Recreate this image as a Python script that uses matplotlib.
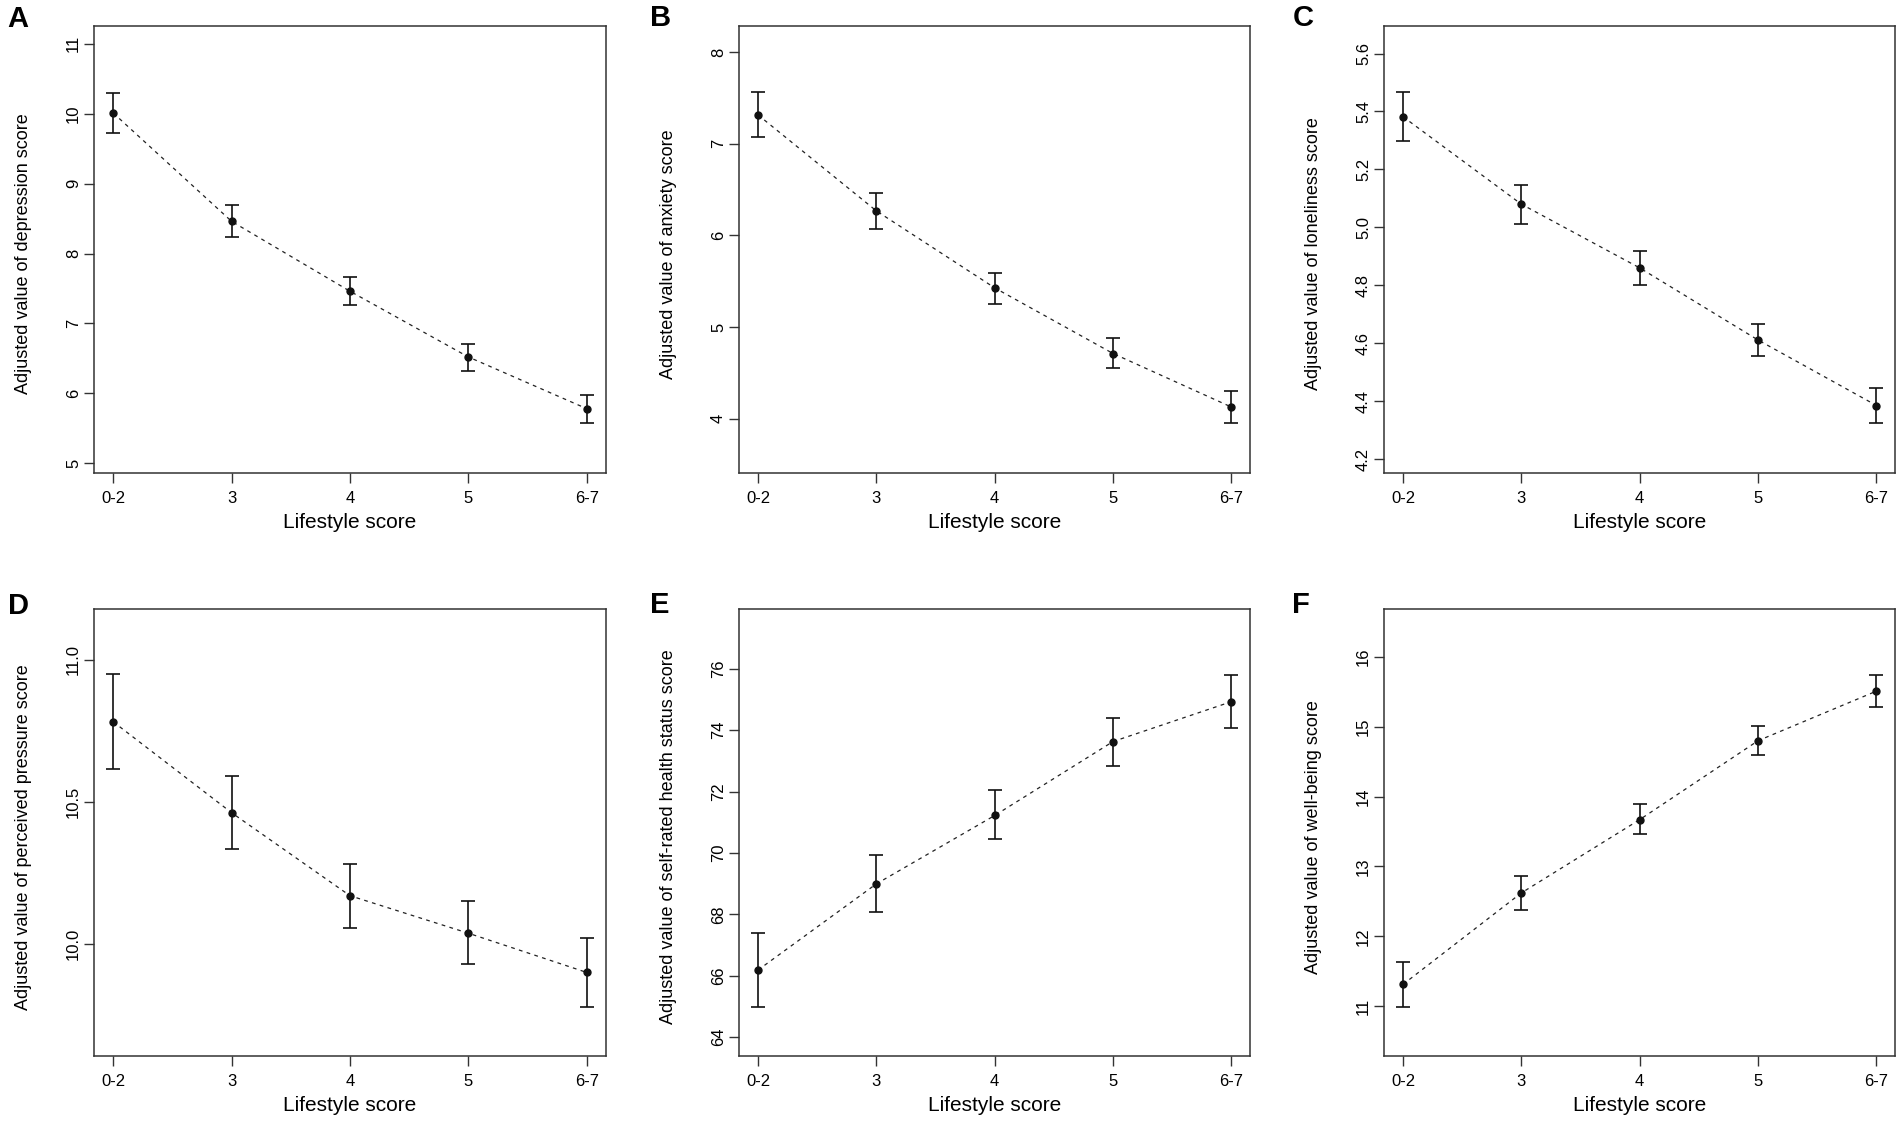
import matplotlib
matplotlib.use("Agg")
import matplotlib.pyplot as plt
import numpy as np

plt.rcParams['font.family'] = ['Liberation Sans', 'DejaVu Sans']

# x categories
groups = ["0-2", "3", "4", "5", "6-7"]

# adjusted means and 95% CI for each outcome
depression = [10.01, 8.46, 7.46, 6.52, 5.78]
depression_lo = [9.72, 8.23, 7.27, 6.32, 5.57]
depression_hi = [10.30, 8.69, 7.66, 6.71, 5.98]

anxiety = [7.315, 6.268, 5.428, 4.712, 4.128]
anxiety_lo = [7.07, 6.074, 5.257, 4.549, 3.953]
anxiety_hi = [7.56, 6.463, 5.591, 4.879, 4.304]

loneliness = [5.382, 5.080, 4.860, 4.611, 4.385]
loneliness_lo = [5.297, 5.011, 4.802, 4.556, 4.325]
loneliness_hi = [5.466, 5.145, 4.918, 4.668, 4.446]

pressure = [10.782, 10.462, 10.170, 10.038, 9.90]
pressure_lo = [10.615, 10.333, 10.055, 9.929, 9.78]
pressure_hi = [10.949, 10.593, 10.283, 10.151, 10.022]

health = [66.18, 68.99, 71.22, 73.63, 74.93]
health_lo = [64.99, 68.08, 70.44, 72.83, 74.07]
health_hi = [67.38, 69.94, 72.05, 74.41, 75.79]

wellbeing = [11.31, 12.62, 13.67, 14.80, 15.51]
wellbeing_lo = [10.99, 12.37, 13.46, 14.59, 15.28]
wellbeing_hi = [11.63, 12.87, 13.90, 15.01, 15.74]

panel_letters = ["A", "B", "C", "D", "E", "F"]
ylabels = ["Adjusted value of depression score",
           "Adjusted value of anxiety score",
           "Adjusted value of loneliness score",
           "Adjusted value of perceived pressure score",
           "Adjusted value of self-rated health status score",
           "Adjusted value of well-being score"]

panels = [
    (depression, depression_lo, depression_hi, [5, 6, 7, 8, 9, 10, 11], "%d", (4.86, 11.255)),
    (anxiety, anxiety_lo, anxiety_hi, [4, 5, 6, 7, 8], "%d", (3.409, 8.284)),
    (loneliness, loneliness_lo, loneliness_hi, [4.2, 4.4, 4.6, 4.8, 5.0, 5.2, 5.4, 5.6], "%.1f", (4.152, 5.695)),
    (pressure, pressure_lo, pressure_hi, [10.0, 10.5, 11.0], "%.1f", (9.607, 11.18)),
    (health, health_lo, health_hi, [64, 66, 68, 70, 72, 74, 76], "%d", (63.39, 77.96)),
    (wellbeing, wellbeing_lo, wellbeing_hi, [11, 12, 13, 14, 15, 16], "%d", (10.29, 16.69)),
]

W, H = 1902, 1127
fig = plt.figure(figsize=(W / 100, H / 100), dpi=100)

lefts = [94.3, 739, 1384]
tops = [26, 608.7]
aw, ah = 511.4, 447

x = np.arange(len(groups))
for i, (m, lo, hi, yt, fmt, ylim) in enumerate(panels):
    r, c = divmod(i, 3)
    ax = fig.add_axes([lefts[c] / W, 1 - (tops[r] + ah) / H, aw / W, ah / H])
    m = np.array(m)
    err = [m - np.array(lo), np.array(hi) - m]
    ax.plot(x, m, color="#222222", lw=0.9, dashes=(3, 3.5), zorder=2)
    ax.errorbar(x, m, yerr=err, fmt="o", color="#111111", ms=5,
                elinewidth=1.2, capsize=4.7, capthick=1.2, zorder=3)
    ax.set_xlim(-0.16, 4.16)
    ax.set_ylim(*ylim)
    ax.set_xticks(x)
    ax.set_xticklabels(groups)
    ax.set_yticks(yt)
    ax.set_yticklabels([fmt % v for v in yt], rotation=90, va="center")
    ax.tick_params(length=7.4, width=1.0, labelsize=12, color="#333333")
    ax.tick_params(axis="x", pad=5.5)
    ax.tick_params(axis="y", pad=2)
    for s in ax.spines.values():
        s.set_linewidth(1.1)
        s.set_color("#333333")
    ax.set_xlabel("Lifestyle score", fontsize=15)
    ax.xaxis.set_label_coords(0.5, -50 / ah)
    ax.set_ylabel(ylabels[i], fontsize=13)
    ax.yaxis.set_label_coords(-0.138, 0.49)
    ax.xaxis.label.set_va("center")
    ax.yaxis.label.set_va("center")

label_pos = [(7, 19), (650, 18), (1293, 18), (8, 606), (650, 605), (1292, 605)]
for letter, (px, py) in zip(panel_letters, label_pos):
    fig.text(px / W, 1 - py / H, letter, fontsize=21, fontweight="bold",
             ha="left", va="center")

fig.savefig("out.png", dpi=100)
